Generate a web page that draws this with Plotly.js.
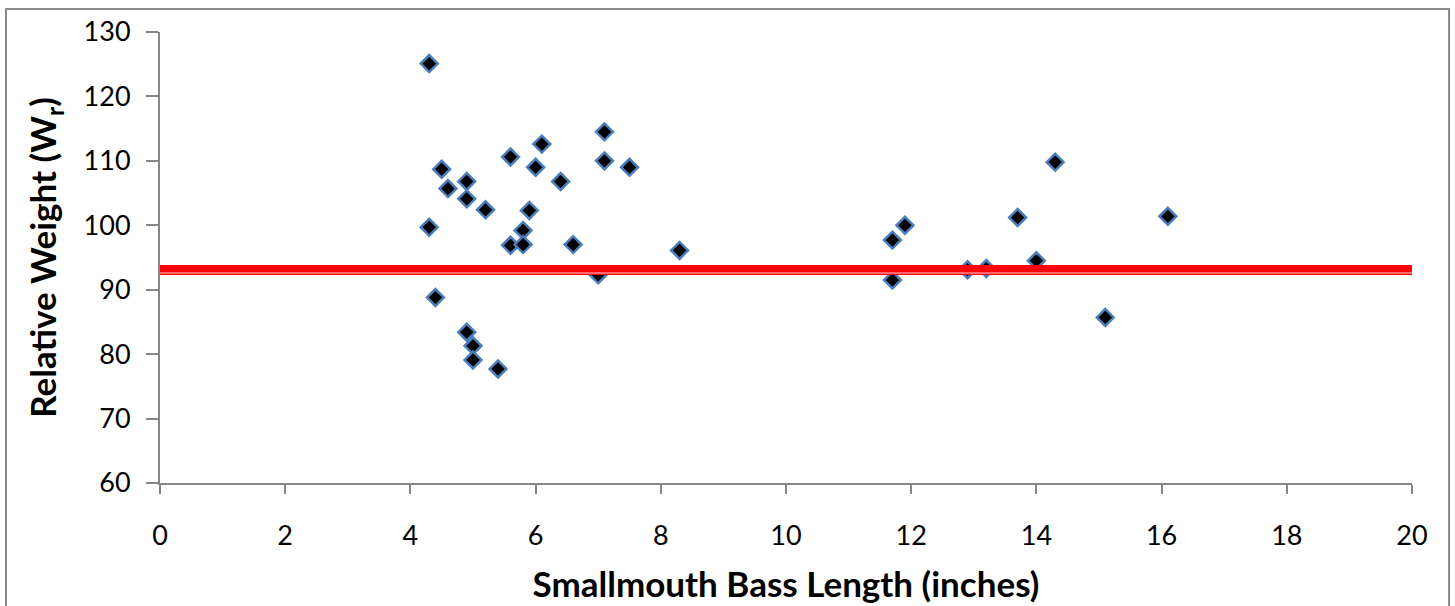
<!DOCTYPE html>
<html>
<head>
<meta charset="utf-8">
<script src="https://cdn.plot.ly/plotly-3.0.1.min.js"></script>
<style>
html,body{margin:0;padding:0;background:#fff;}
#chart{width:1455px;height:606px;}
</style>
</head>
<body>
<div id="chart"></div>
<script>
// Smallmouth bass length (inches)
var lengthIn = [4.3, 7.1, 6.1, 5.6, 7.1, 6.0, 7.5, 4.5, 4.9, 6.4, 4.6, 4.9, 5.2, 5.9, 4.3, 5.8,
                5.6, 5.8, 6.6, 8.3, 7.0, 4.4, 4.9, 5.0, 5.0, 5.4,
                14.3, 11.9, 11.7, 13.7, 16.1, 14.0, 12.9, 13.2, 11.7, 15.1];
// Relative weight (Wr)
var relWeight = [125.1, 114.5, 112.6, 110.6, 110.0, 109.0, 109.0, 108.7, 106.8, 106.8, 105.7, 104.1, 102.4, 102.3, 99.7, 99.2,
                 96.9, 97.0, 97.0, 96.1, 92.3, 88.8, 83.4, 81.3, 79.1, 77.7,
                 109.8, 100.0, 97.7, 101.2, 101.4, 94.5, 93.1, 93.3, 91.5, 85.7];
// Reference line
var refX = [0, 20];
var refY = [93.06, 93.06];
var xTicks = [0, 2, 4, 6, 8, 10, 12, 14, 16, 18, 20];
var yTicks = [60, 70, 80, 90, 100, 110, 120, 130];

var axisColor = '#868686';
var fontFam = 'Lato, "Open Sans", sans-serif';

var traces = [
  {
    x: lengthIn, y: relWeight, type: 'scatter', mode: 'markers',
    marker: {symbol: 'diamond', size: 13, color: '#000000',
             line: {color: '#4a7ebb', width: 2.5}},
    showlegend: false
  },
  {
    x: refX, y: refY, type: 'scatter', mode: 'lines',
    line: {color: '#ff0000', width: 10},
    hoverinfo: 'skip', showlegend: false, cliponaxis: false
  }
];

var layout = {
  width: 1455, height: 606,
  margin: {l: 160, r: 43, t: 32, b: 123},
  paper_bgcolor: '#ffffff', plot_bgcolor: '#ffffff',
  font: {family: fontFam, color: '#000000', size: 27},
  showlegend: false,
  xaxis: {
    range: [0, 20], tickvals: xTicks, ticktext: xTicks.map(String),
    showgrid: false, zeroline: false,
    showline: true, linecolor: axisColor, linewidth: 2,
    ticks: 'outside', ticklen: 9, tickwidth: 2, tickcolor: axisColor,
    tickfont: {size: 27, family: fontFam},
    ticklabelstandoff: 19,
    title: {text: 'Smallmouth Bass Length (inches)', standoff: 22,
            font: {size: 35, family: fontFam, weight: 'bold'}}
  },
  yaxis: {
    range: [60, 130], tickvals: yTicks, ticktext: yTicks.map(String),
    showgrid: false, zeroline: false,
    showline: true, linecolor: axisColor, linewidth: 2,
    ticks: 'outside', ticklen: 12, tickwidth: 2, tickcolor: axisColor,
    tickfont: {size: 27, family: fontFam},
    ticklabelstandoff: 10,
    title: {text: 'Relative Weight (W<sub>r</sub>)', standoff: 16,
            font: {size: 35, family: fontFam, weight: 'bold'}}
  },
  shapes: [
    {type: 'rect', xref: 'paper', yref: 'paper',
     x0: -0.123, x1: 1.0296, y0: -0.5, y1: 1.051,
     line: {color: '#898989', width: 2}, fillcolor: 'rgba(0,0,0,0)', layer: 'below'},
    {type: 'line', xref: 'x', yref: 'y', ysizemode: 'pixel', yanchor: refY[0],
     x0: refX[0], x1: refX[1], y0: -3, y1: -3,
     line: {color: 'rgba(255,235,235,0.9)', width: 1}, layer: 'above'}
  ]
};

Plotly.newPlot('chart', traces, layout, {displayModeBar: false, staticPlot: true});
</script>
</body>
</html>
